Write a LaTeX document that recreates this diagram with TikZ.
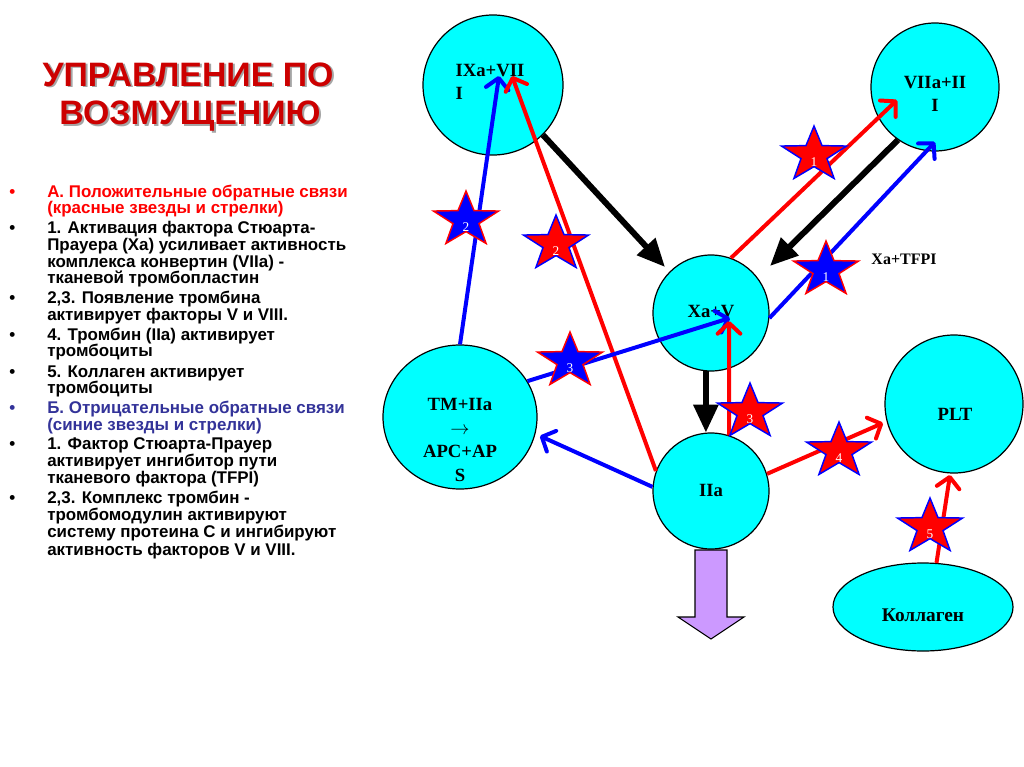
\documentclass[tikz,border=0pt]{standalone}
\usepackage{fontspec}
\setmainfont{Liberation Serif}
\newfontfamily\sansf{Liberation Sans}
\usetikzlibrary{arrows.meta,shapes.geometric}
\definecolor{cyanfill}{RGB}{0,255,255}
\definecolor{titlered}{RGB}{204,0,0}
\definecolor{negblue}{RGB}{51,51,153}
\definecolor{purplefill}{RGB}{204,153,255}
\definecolor{shadowgray}{RGB}{165,165,165}
\tikzset{
  circ/.style={circle, draw=black, line width=0.9pt, fill=cyanfill, inner sep=0pt},
  ellnode/.style={ellipse, draw=black, line width=0.9pt, fill=cyanfill, inner sep=0pt},
  clabel/.style={font=\bfseries\fontsize{14}{17.6}\selectfont, inner sep=0pt, align=center},
  redarr/.style={draw=red, line width=3pt, -{Straight Barb[length=8pt,width=17pt,round]}},
  bluearr/.style={draw=blue, line width=3pt, -{Straight Barb[length=8pt,width=17pt,round]}},
  blackarr/.style={draw=black, line width=4.5pt, -{Triangle[length=21pt,width=18pt]}},
  numlbl/.style={text=white, font=\fontsize{10}{10}\selectfont, inner sep=0pt},
  txtline/.style={anchor=base west, inner sep=0pt, font=\sansf\bfseries\fontsize{12.7}{12.4}\selectfont},
  titletxt/.style={anchor=base, inner sep=0pt, font=\sansf\bfseries\fontsize{25.4}{28}\selectfont},
  pics/fbstar/.style 2 args={code={
    \path[fill=#1, draw=#2, line width=1.1pt, xscale=1.18]
      (-90:29) -- (-54:11.6) -- (-18:29) -- (18:11.6) -- (54:29) -- (90:11.6)
      -- (126:29) -- (162:11.6) -- (198:29) -- (234:11.6) -- cycle;
  }}
}
\newcommand\txl[4]{\node[txtline, text=#3] (#1) at (47,#2) {#4};}
\newcommand\bul[3]{\node[txtline, text=#3] (#1) at (9,#2) {•};}
\begin{document}
\begin{tikzpicture}[x=0.75pt,y=-0.75pt]
\useasboundingbox[fill=white] (0,0) rectangle (1024,767);

% ---------- title ----------
\node[titletxt, text=shadowgray] (t1s) at (190,88) {УПРАВЛЕНИЕ ПО};
\node[titletxt, text=shadowgray] (t2s) at (192,126) {ВОЗМУЩЕНИЮ};
\node[titletxt, text=titlered] (t1) at (188,86) {УПРАВЛЕНИЕ ПО};
\node[titletxt, text=titlered] (t2) at (190,124) {ВОЗМУЩЕНИЮ};

% ---------- bullet list ----------
\bul{b1}{197}{red}
\txl{l1}{197}{red}{А. Положительные обратные связи}
\txl{l2}{213}{red}{(красные звезды и стрелки)}
\bul{b2}{233}{black}
\txl{l3}{233}{black}{1. Активация фактора Стюарта-}
\txl{l4}{250}{black}{Прауера (Ха) усиливает активность}
\txl{l5}{267}{black}{комплекса конвертин (VIIa) -}
\txl{l6}{283}{black}{тканевой тромбопластин}
\bul{b3}{303}{black}
\txl{l7}{303}{black}{2,3. Появление тромбина}
\txl{l8}{320}{black}{активирует факторы V и VIII.}
\bul{b4}{340}{black}
\txl{l9}{340}{black}{4. Тромбин (IIa) активирует}
\txl{l10}{356}{black}{тромбоциты}
\bul{b5}{377}{black}
\txl{l11}{377}{black}{5. Коллаген активирует}
\txl{l12}{393}{black}{тромбоциты}
\bul{b6}{413}{negblue}
\txl{l13}{413}{negblue}{Б. Отрицательные обратные связи}
\txl{l14}{430}{negblue}{(синие звезды и стрелки)}
\bul{b7}{449}{black}
\txl{l15}{449}{black}{1. Фактор Стюарта-Прауер}
\txl{l16}{466}{black}{активирует ингибитор пути}
\txl{l17}{483}{black}{тканевого фактора (TFPI)}
\bul{b8}{503}{black}
\txl{l18}{503}{black}{2,3. Комплекс тромбин -}
\txl{l19}{520}{black}{тромбомодулин активируют}
\txl{l20}{537}{black}{систему протеина С и ингибируют}
\txl{l21}{555}{black}{активность факторов V и VIII.}

% ---------- nodes ----------
\node[circ, minimum size=105pt] (ix) at (493,85) {};
\node[circ, minimum size=96pt] (vii) at (935,87) {};
\node[circ, minimum size=87pt] (xv) at (711,313) {};
\node[ellnode, minimum width=115.5pt, minimum height=108pt] (tm) at (460,417) {};
\node[circ, minimum size=87pt] (iia) at (711,491) {};
\node[circ, minimum size=103.5pt] (plt) at (954,404) {};
\node[ellnode, minimum width=135pt, minimum height=66pt] (kol) at (923,607) {};

% output arrow below IIa
\draw[fill=purplefill, draw=black, line width=0.8pt]
  (695,550) -- (727,550) -- (727,617) -- (744,617) -- (711,639) -- (678,617) -- (695,617) -- cycle;

% labels
\node[clabel, align=left] (ixl) at (490,82) {IXa+VII\\I};
\node[clabel] (viil) at (935,94) {VIIa+II\\I};
\node[clabel] (xvl) at (711,312) {Xa+V};
\node[clabel] (tml) at (460,440) {TM+IIa\\$\rightarrow$\\APC+AP\\S};
\node[clabel] (iial) at (711,490) {IIa};
\node[clabel] (pltl) at (955,414) {PLT};
\node[clabel, font=\bfseries\fontsize{14.5}{16}\selectfont] (koll) at (923,615) {Коллаген};
\node[clabel, font=\bfseries\fontsize{12}{14}\selectfont] (tfpil) at (904,259) {Xa+TFPI};

% arrow tip points
\coordinate (tipIXb) at (499,76);
\coordinate (tipIXr) at (512,76);
\coordinate (tipVIIr) at (897,100);
\coordinate (tipVIIb) at (935,142);
\coordinate (tipXVl) at (665,267);
\coordinate (tipXVr) at (770,266);
\coordinate (tipXVb) at (730,318);
\coordinate (tipXVred) at (729,321);
\coordinate (tipTM) at (540,436);
\coordinate (tipPLTr) at (883,423);
\coordinate (tipPLTc) at (950,475);

% ---------- connectors ----------
\draw[blackarr] (ix.-45) -- (tipXVl);
\draw[blackarr] (vii.235) -- (tipXVr);
\draw[blackarr] (xv.265) -- (iia.95);

\draw[bluearr] (tm.north) -- (tipIXb);
\draw[redarr] (iia.160) -- (tipIXr);
\draw[redarr] (xv.70) -- (tipVIIr);
\draw[bluearr] (xv.-5) -- (tipVIIb);
\draw[bluearr] (tm.28) -- (tipXVb);
\draw[redarr] (iia.72) -- (tipXVred);
\draw[bluearr] (iia.176) -- (tipTM);
\draw[redarr] (iia.17) -- (tipPLTr);
\draw[redarr] (kol.73) -- (tipPLTc);

% ---------- stars ----------
\pic at (814,155) {fbstar={red}{blue}};
\node[numlbl] (n1r) at (814,162) {1};
\pic at (826,270) {fbstar={blue}{red}};
\node[numlbl] (n1b) at (826,277) {1};
\pic at (466,220) {fbstar={blue}{red}};
\node[numlbl] (n2b) at (466,227) {2};
\pic at (556,244) {fbstar={red}{blue}};
\node[numlbl] (n2r) at (556,251) {2};
\pic at (570,361) {fbstar={blue}{red}};
\node[numlbl] (n3b) at (570,368) {3};
\pic at (750,412) {fbstar={red}{blue}};
\node[numlbl] (n3r) at (750,419) {3};
\pic at (839,451) {fbstar={red}{blue}};
\node[numlbl] (n4r) at (839,458) {4};
\pic at (930,527) {fbstar={red}{blue}};
\node[numlbl] (n5r) at (930,534) {5};
\end{tikzpicture}
\end{document}
